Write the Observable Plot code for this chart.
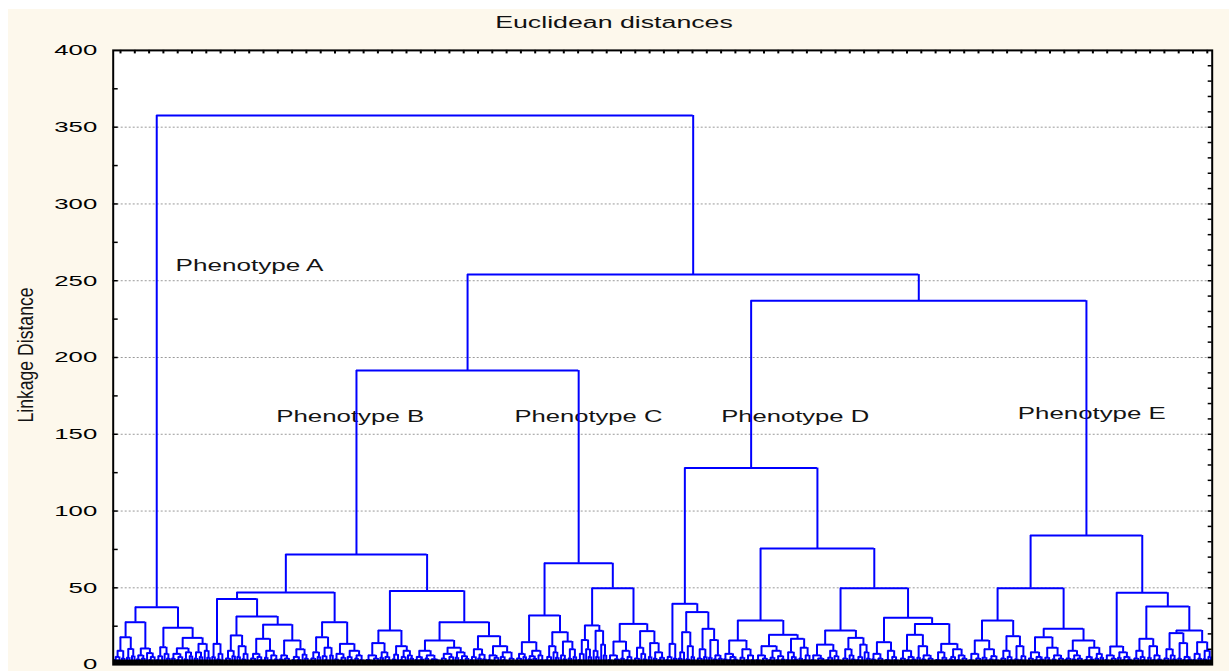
<!DOCTYPE html>
<html>
<head>
<meta charset="utf-8">
<script src="https://cdn.jsdelivr.net/npm/d3@7"></script>
<script src="https://cdn.jsdelivr.net/npm/@observablehq/plot@0.6"></script>
<style>
  body { margin: 0; background: #ffffff; font-family: "Liberation Sans", Arial, sans-serif; }
  #panel { position: absolute; left: 8px; top: 9px; width: 1221px; height: 662px; background: #FDF8EC; overflow: hidden; }
  #title { position: relative; height: 32px; }
  #title span { position: absolute; left: 605.5px; top: 5px; line-height: 18px; font-size: 16px; color: #111;
                white-space: nowrap; transform: translateX(-50%) scaleX(1.67); }
  #chart svg { display: block; }
</style>
</head>
<body>
<div id="panel">
  <div id="title"><span>Euclidean distances</span></div>
  <div id="chart"></div>
</div>
<script>
// Cluster trees written as s-expressions: "(height left right)", "." is a single case.
const phenotypeA = `
(37.4
  (27.6
    (17.8 (9 (5 (3 . .) .) (4 . .)) (10.2 (4.5 . .) (5.5 . .)))
    (10.5 (6 (3.5 . .) (4 . .)) (7.5 . (5 (3 . .) .)))
  )
  (24
    (11.3 (5.5 (3 . .) .) (7 . (4 . .)))
    (17.4
      (10.6 (7 (4 . .) (5 (3 . .) .)) (8 (3.5 . .) (5.5 . .)))
      (13.5 (8 (4 . .) (5 . .)) (9 . (4.5 . .)))
    )
  )
)`;

const phenotypeB = `
(71.7
  (47
    (42.8
      (13.5 (5 . .) (7 (3.5 . .) .))
      (31.3
        (19 (9 (4 (2.5 . .) .) (5.5 . .)) (12 (5 . .) (7 (3.5 . .) .)))
        (26
          (16.8 (7 (4 (2.5 . .) .) (5 . (3 . .))) (9 (4.5 . .) (6 (3 . .) (3.5 . .))))
          (15.7 (6 (3.5 . .) (4 . (2.5 . .))) (10 (5 (3 . .) (3.2 . .)) (6.5 . (4 . .))))
        )
      )
    )
    (27.6
      (17.8 (8 (4 (2.5 . .) .) (5 . .)) (11 (5.5 . (3 . .)) (6 . .)))
      (13.5 (7 (3.5 . .) (4.5 (2.5 . .) .)) (9 (5 . (3 . .)) (6 (4 . .) (3 . .))))
    )
  )
  (48
    (22.2 (14 (6 (3 (2 . .) .) (4 (2.5 . .) .)) (8 (4.5 . .) (5 . (3 . .)))) (12 (6.5 (3.5 . .) .) (9 (5 (3 . .) .) (6 . (4 . .)))))
    (27.6
      (15.7 (9 (5 (3 . .) (3.5 . .)) (6 (4 . .) (3.5 (2.5 . .) (3 . .)))) (11 (7 (4 (2.5 . .) .) (5 (2.5 . .) .)) (8 (4.5 . .) (5.5 (3 . .) (4 . .)))))
      (18.5 (10 (5 (3 . .) .) (6.5 (4 . .) (3.5 . .))) (12 (6 (3 . .) (4.5 (2.5 . .) .)) (8 (5 . (3 . .)) (4 (2.5 . .) .))))
    )
  )
)`;

const phenotypeC = `
(66
  (32
    (14.6 (7 (4 (2.5 . .) .) (5 . .)) (9 (5.5 (3.5 . .) (4 . .)) (6 . (3 . .))))
    (21.1 (12 (5 (3 . .) .) (8 . (4.5 . .))) (15 (6 . (3.5 . .)) (10 (4 . .) (5 . .))))
  )
  (49.8
    (25.5 (16 (7 (3 . .) .) (10 . (5 . .))) (22 (9 . (5 . .)) (13 . (6 . .))))
    (26.5
      (15 (6 (3 . .) (3.5 (2.5 . .) .)) (9 (4 . .) (5 (3 . .) .)))
      (21.8 (11 (4 (2.5 . .) .) (7 . (3.5 . .))) (14 (5 . .) (8 (4 . .) (4.5 (3 . .) .))))
    )
  )
)`;

const phenotypeD = `
(128
  (39.6
    (13.5 (5 (3 . .) .) (4 . .))
    (34.2
      (21.1 (8 (4 . .) .) (12 (3.5 . .) (5 . .)))
      (23.3 (10 (4 (2.5 . .) .) (5 . .)) (16 (4.5 . .) (6 (3.5 . .) (4 . .))))
    )
  )
  (75.6
    (28.7
      (15.7 (7 (3.5 . .) (5 (3 . .) (3.5 . .))) (10 (4.5 (2.5 . .) .) (6 (3 . .) (3 . .))))
      (19.4
        (12 (6 (3 . .) (4 (2.5 . .) .)) (9 (4.5 (3 . .) .) (5.5 (3 . .) (3.5 . .))))
        (16.8 (8 (3 . .) (5 . (3.5 . .))) (11 (4 . .) (6 (3 . .) .)))
      )
    )
    (49.8
      (22.2
        (13 (6 (3 . .) (4 (2.5 . .) (3 . .))) (9 (4.5 (3 . .) .) (5.5 . (3 . .))))
        (17.4 (10 (4 (2.5 . .) .) (6 . (3.5 . .))) (13 (5 (3 . .) .) (8 . (4 . .))))
      )
      (30.5
        (14.6 (7 (3.5 . .) (4 (2.5 . .) .)) (9 (3 (2.5 . .) .) (5 . (3 . .))))
        (26.5
          (19.4 (9 (4 (2.5 . .) .) (5 (3 . .) (3.5 . .))) (12 (4.5 . .) (6 (3.5 . .) (4 (2.5 . .) .))))
          (13.5 (8 (3 (2.5 . .) .) (4.5 . (3 . .))) (10 (5 (3.5 . .) .) (6 (3 . .) (4 . (2.5 . .)))))
        )
      )
    )
  )
)`;

const phenotypeE = `
(84.1
  (49.8
    (28.7
      (15.7 (7 (3 . .) (4 (2.5 . .) .)) (10 (4.5 . (3 . .)) (5.5 (3.5 . .) (3 . .))))
      (18.5 (9 (4 (2.5 . .) .) (5 . (3 . .))) (12 (3.5 . .) (5.5 (3 . .) .)))
    )
    (23.3
      (17.8 (8 (4 (2.5 . .) .) (5 (3 . .) (3.5 . .))) (11 (4.5 . (3 . .)) (6 (3.5 . .) (4 (2.5 . .) .))))
      (15.7 (9 (4 (3 . .) .) (6 (3.5 . .) (4 . (2.5 . .)))) (11 (5 (3 . .) (3.5 . .)) (7 (4 . .) (4.5 . .))))
    )
  )
  (46.8
    (11.8 (6 (3 . .) (4 (2.5 . .) .)) (8 (4.5 . .) (5 (3 . .) (3.5 . .))))
    (37.8
      (16.8 (9 (4 (2.5 . .) .) (5 . (3 . .))) (12 (4.5 . .) (6 (3 . .) (3.5 . .))))
      (22.2
        (20.5 (10 (4 (2.5 . .) .) (6 . (3.5 . .))) (14 (4 . .) (5 (3 . .) (3.5 . .))))
        (14.6 (7 (3 . .) (4 . .)) (9 (3.5 . .) (5 . .)))
      )
    )
  )
)`;

// Linkage of the five phenotype clusters
const phenotypeKeys = ["A", "B", "C", "D", "E"];
const phenotypeTrees = [phenotypeA, phenotypeB, phenotypeC, phenotypeD, phenotypeE];
const upperTree = "(357.6 A (254 (191.5 B C) (237 D E)))";

// Phenotype annotations: text, start of the text as a share of the case axis, linkage distance
const labelTexts = ["Phenotype A", "Phenotype B", "Phenotype C", "Phenotype D", "Phenotype E"];
const labelShare = [0.0567, 0.1483, 0.3651, 0.5532, 0.8231];
const labelDistance = [260, 161.3, 161.3, 161.3, 163.2];

const yTicks = [0, 50, 100, 150, 200, 250, 300, 350, 400];
const yLabel = "Linkage Distance";

// ---- parse the trees ----
function parseTree(src) {
  const tokens = src.match(/\(|\)|[0-9]+(?:\.[0-9]+)?|\.|[A-Z]/g);
  let pos = 0;
  function node() {
    const t = tokens[pos++];
    if (t === ".") return {h: 0};
    if (t === "(") {
      const h = +tokens[pos++];
      const kids = [];
      while (tokens[pos] !== ")") {
        if (pos >= tokens.length) throw new Error("unbalanced tree");
        kids.push(node());
      }
      pos++;
      return {h, kids};
    }
    const k = phenotypeKeys.indexOf(t);
    if (k >= 0) return parseTree(phenotypeTrees[k]);
    throw new Error("bad token " + t);
  }
  const root = node();
  if (pos !== tokens.length) throw new Error("trailing tokens in tree");
  return root;
}

const root = parseTree(upperTree);

// leaves get consecutive case positions, each join sits midway between its outer children
let caseCount = 0;
(function place(n) {
  if (!n.kids) { n.x = caseCount++; return; }
  n.kids.forEach(place);
  n.x = (n.kids[0].x + n.kids[n.kids.length - 1].x) / 2;
})(root);

const joins = [], stems = [], leaves = [];
(function collect(n) {
  if (!n.kids) { leaves.push(n.x); return; }
  joins.push({x1: n.kids[0].x, x2: n.kids[n.kids.length - 1].x, y: n.h});
  for (const k of n.kids) {
    stems.push({x: k.x, y1: k.h, y2: n.h});
    collect(k);
  }
})(root);

const xMin = -0.5, xMax = caseCount - 0.5;
const labels = labelTexts.map((t, i) => ({text: t, x: xMin + labelShare[i] * caseCount, y: labelDistance[i]}));

const W = 1221, H = 630, mL = 104.7, mR = 17.3, mT = 8.9, mB = 6.9;
const pxPerCase = (W - mL - mR) / caseCount;        // horizontal pixels per case
const pxPerUnit = (H - mT - mB) / 400;              // vertical pixels per distance unit
const blue = "#0000FF";

const chart = Plot.plot({
  width: W,
  height: H,
  marginLeft: mL,
  marginRight: mR,
  marginTop: mT,
  marginBottom: mB,
  style: {fontFamily: '"Liberation Sans", Arial, sans-serif', fontSize: "15px", background: "transparent", color: "#000"},
  x: {domain: [xMin, xMax], axis: null},
  y: {domain: [0, 400], ticks: yTicks, tickSize: 0, tickPadding: 16, tickFormat: d => String(d), label: null},
  marks: [
    Plot.frame({fill: "white"}),
    Plot.ruleY(yTicks.filter(d => d > 0 && d < 400), {stroke: "#9a9a9a", strokeWidth: 1, strokeDasharray: "2,2"}),
    Plot.text(labels, {x: "x", y: "y", text: "text", textAnchor: "start", fontSize: 17, fill: "#141414"}),
    Plot.ruleX(stems, {x: "x", y1: "y1", y2: "y2", stroke: blue, strokeWidth: 2}),
    Plot.ruleY(joins, {x1: "x1", x2: "x2", y: "y", stroke: blue, strokeWidth: 2}),
    // case tick band along the bottom
    Plot.ruleX(leaves, {x: d => d, y1: 0, y2: 4.5 / pxPerUnit, stroke: "black", strokeWidth: 3}),
    // inward ticks on the frame
    Plot.ruleY(d3.range(25, 400, 25), {x1: xMin, x2: xMin + 5 / pxPerCase, stroke: "black", strokeWidth: 1.5}),
    Plot.ruleY(d3.range(10, 400, 10), {x1: xMax - 4 / pxPerCase, x2: xMax, stroke: "black", strokeWidth: 1.5}),
    Plot.ruleX(d3.range(xMin + 7.3 / pxPerCase, xMax, 14.3 / pxPerCase),
      {x: d => d, y1: 400, y2: 400 - 3.5 / pxPerUnit, stroke: "black", strokeWidth: 2}),
    Plot.frame({stroke: "black", strokeWidth: 2})
  ]
});

document.getElementById("chart").appendChild(chart);

const svg = d3.select(chart);
// wide glyphs of the original export
svg.selectAll("text").filter(function () { return /^\d+$/.test(this.textContent.trim()); })
  .attr("textLength", function () { return this.textContent.trim().length * 14.3; })
  .attr("lengthAdjust", "spacingAndGlyphs");
svg.selectAll("text").filter(function () { return this.textContent.startsWith("Phenotype"); })
  .attr("textLength", 148)
  .attr("lengthAdjust", "spacingAndGlyphs");

svg.append("text")
  .attr("transform", "translate(17,314) scale(1.5,1) rotate(-90)")
  .attr("text-anchor", "middle")
  .attr("dy", "0.35em")
  .attr("font-size", 15)
  .attr("fill", "#141414")
  .attr("textLength", 135)
  .attr("lengthAdjust", "spacingAndGlyphs")
  .text(yLabel);
</script>
</body>
</html>
